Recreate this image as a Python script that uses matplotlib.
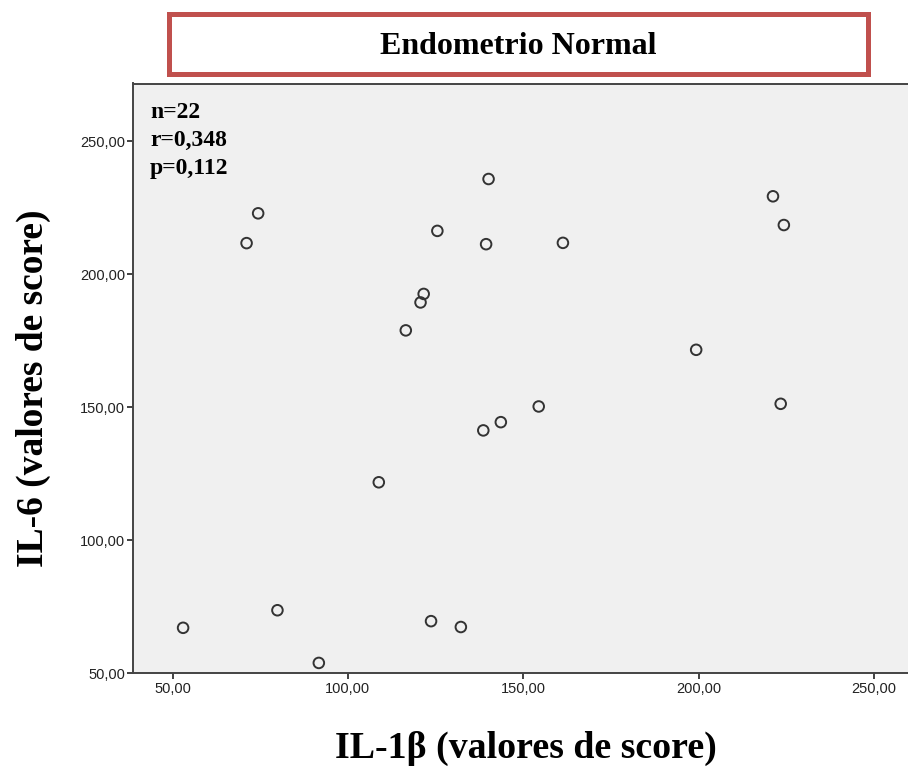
import matplotlib
matplotlib.use("Agg")
import matplotlib.pyplot as plt
from matplotlib.patches import Rectangle
from matplotlib.ticker import FuncFormatter

# Data: IL-1β (x) vs IL-6 (y) score values, Endometrio Normal
il1b = [53.0, 79.9, 91.7, 123.7, 132.2, 71.1, 74.4, 140.1, 125.5, 139.4, 161.3,
        121.6, 120.7, 116.5, 108.8, 138.6, 143.6, 154.4, 221.2, 224.3, 199.3, 223.4]
il6 = [67.1, 73.7, 53.9, 69.6, 67.4, 211.7, 222.9, 235.8, 216.3, 211.3, 211.8,
       192.6, 189.4, 178.9, 121.8, 141.3, 144.4, 150.3, 229.3, 218.5, 171.6, 151.3]
x_ticks = [50, 100, 150, 200, 250]
y_ticks = [50, 100, 150, 200, 250]
title = "Endometrio Normal"
stats = ["n=22", "r=0,348", "p=0,112"]
xlabel = "IL-1β (valores de score)"
ylabel = "IL-6 (valores de score)"

W, H = 908, 771
fig = plt.figure(figsize=(W / 100, H / 100), dpi=100)
fig.patch.set_facecolor("white")

def fx(px):
    return px / W

def fy(py):
    return 1 - py / H

ax_left, ax_right, ax_top, ax_bottom = 133.3, 908.0, 83.5, 673.3
ax = fig.add_axes([fx(ax_left), fy(ax_bottom), (ax_right - ax_left) / W, (ax_bottom - ax_top) / H])
ax.set_facecolor("#F0F0F0")

ax.scatter(il1b, il6, s=58, facecolors="none", edgecolors="#333333", linewidths=1.4, zorder=3)

ax.set_xlim(38.8, 259.7)
ax.set_ylim(50, 271.7)
ax.set_xticks(x_ticks)
ax.set_yticks(y_ticks)
fmt = FuncFormatter(lambda v, p: f"{v:.2f}".replace(".", ","))
ax.xaxis.set_major_formatter(fmt)
ax.yaxis.set_major_formatter(fmt)
for lab in ax.get_xticklabels() + ax.get_yticklabels():
    lab.set_fontfamily("Liberation Sans")
    lab.set_fontsize(10.5)
    lab.set_color("#222222")
ax.tick_params(axis="both", direction="out", length=4, width=1.3, color="#333333", pad=2)

for side in ["left", "bottom", "top"]:
    ax.spines[side].set_color("#444444")
    ax.spines[side].set_linewidth(1.4)
ax.spines["right"].set_visible(False)

# Stats annotation
for i, s in enumerate(stats):
    fig.text(fx(150), fy(112.5 + i * 27.8), s, family="Liberation Serif", weight="bold",
             fontsize=17, ha="left", va="center", color="black")

# Title box
bx0, bx1, by0, by1 = 168.5, 867.5, 14.5, 73.5
fig.patches.append(Rectangle((fx(bx0), fy(by1)), (bx1 - bx0) / W, (by1 - by0) / H,
                             transform=fig.transFigure, facecolor="white",
                             edgecolor="#C0504D", linewidth=3.6, zorder=5))
fig.text(fx(518), fy(46.5), title, family="Liberation Serif", weight="bold",
         fontsize=23, ha="center", va="center", color="black", zorder=6)

# Axis labels
fig.text(fx(526), fy(748), xlabel, family="Liberation Serif", weight="bold",
         fontsize=27.3, ha="center", va="center", color="black")
fig.text(fx(33), fy(388), ylabel, family="Liberation Serif", weight="bold",
         fontsize=27, ha="center", va="center", rotation=90, color="black")

fig.savefig("out.png", dpi=100, facecolor="white")
